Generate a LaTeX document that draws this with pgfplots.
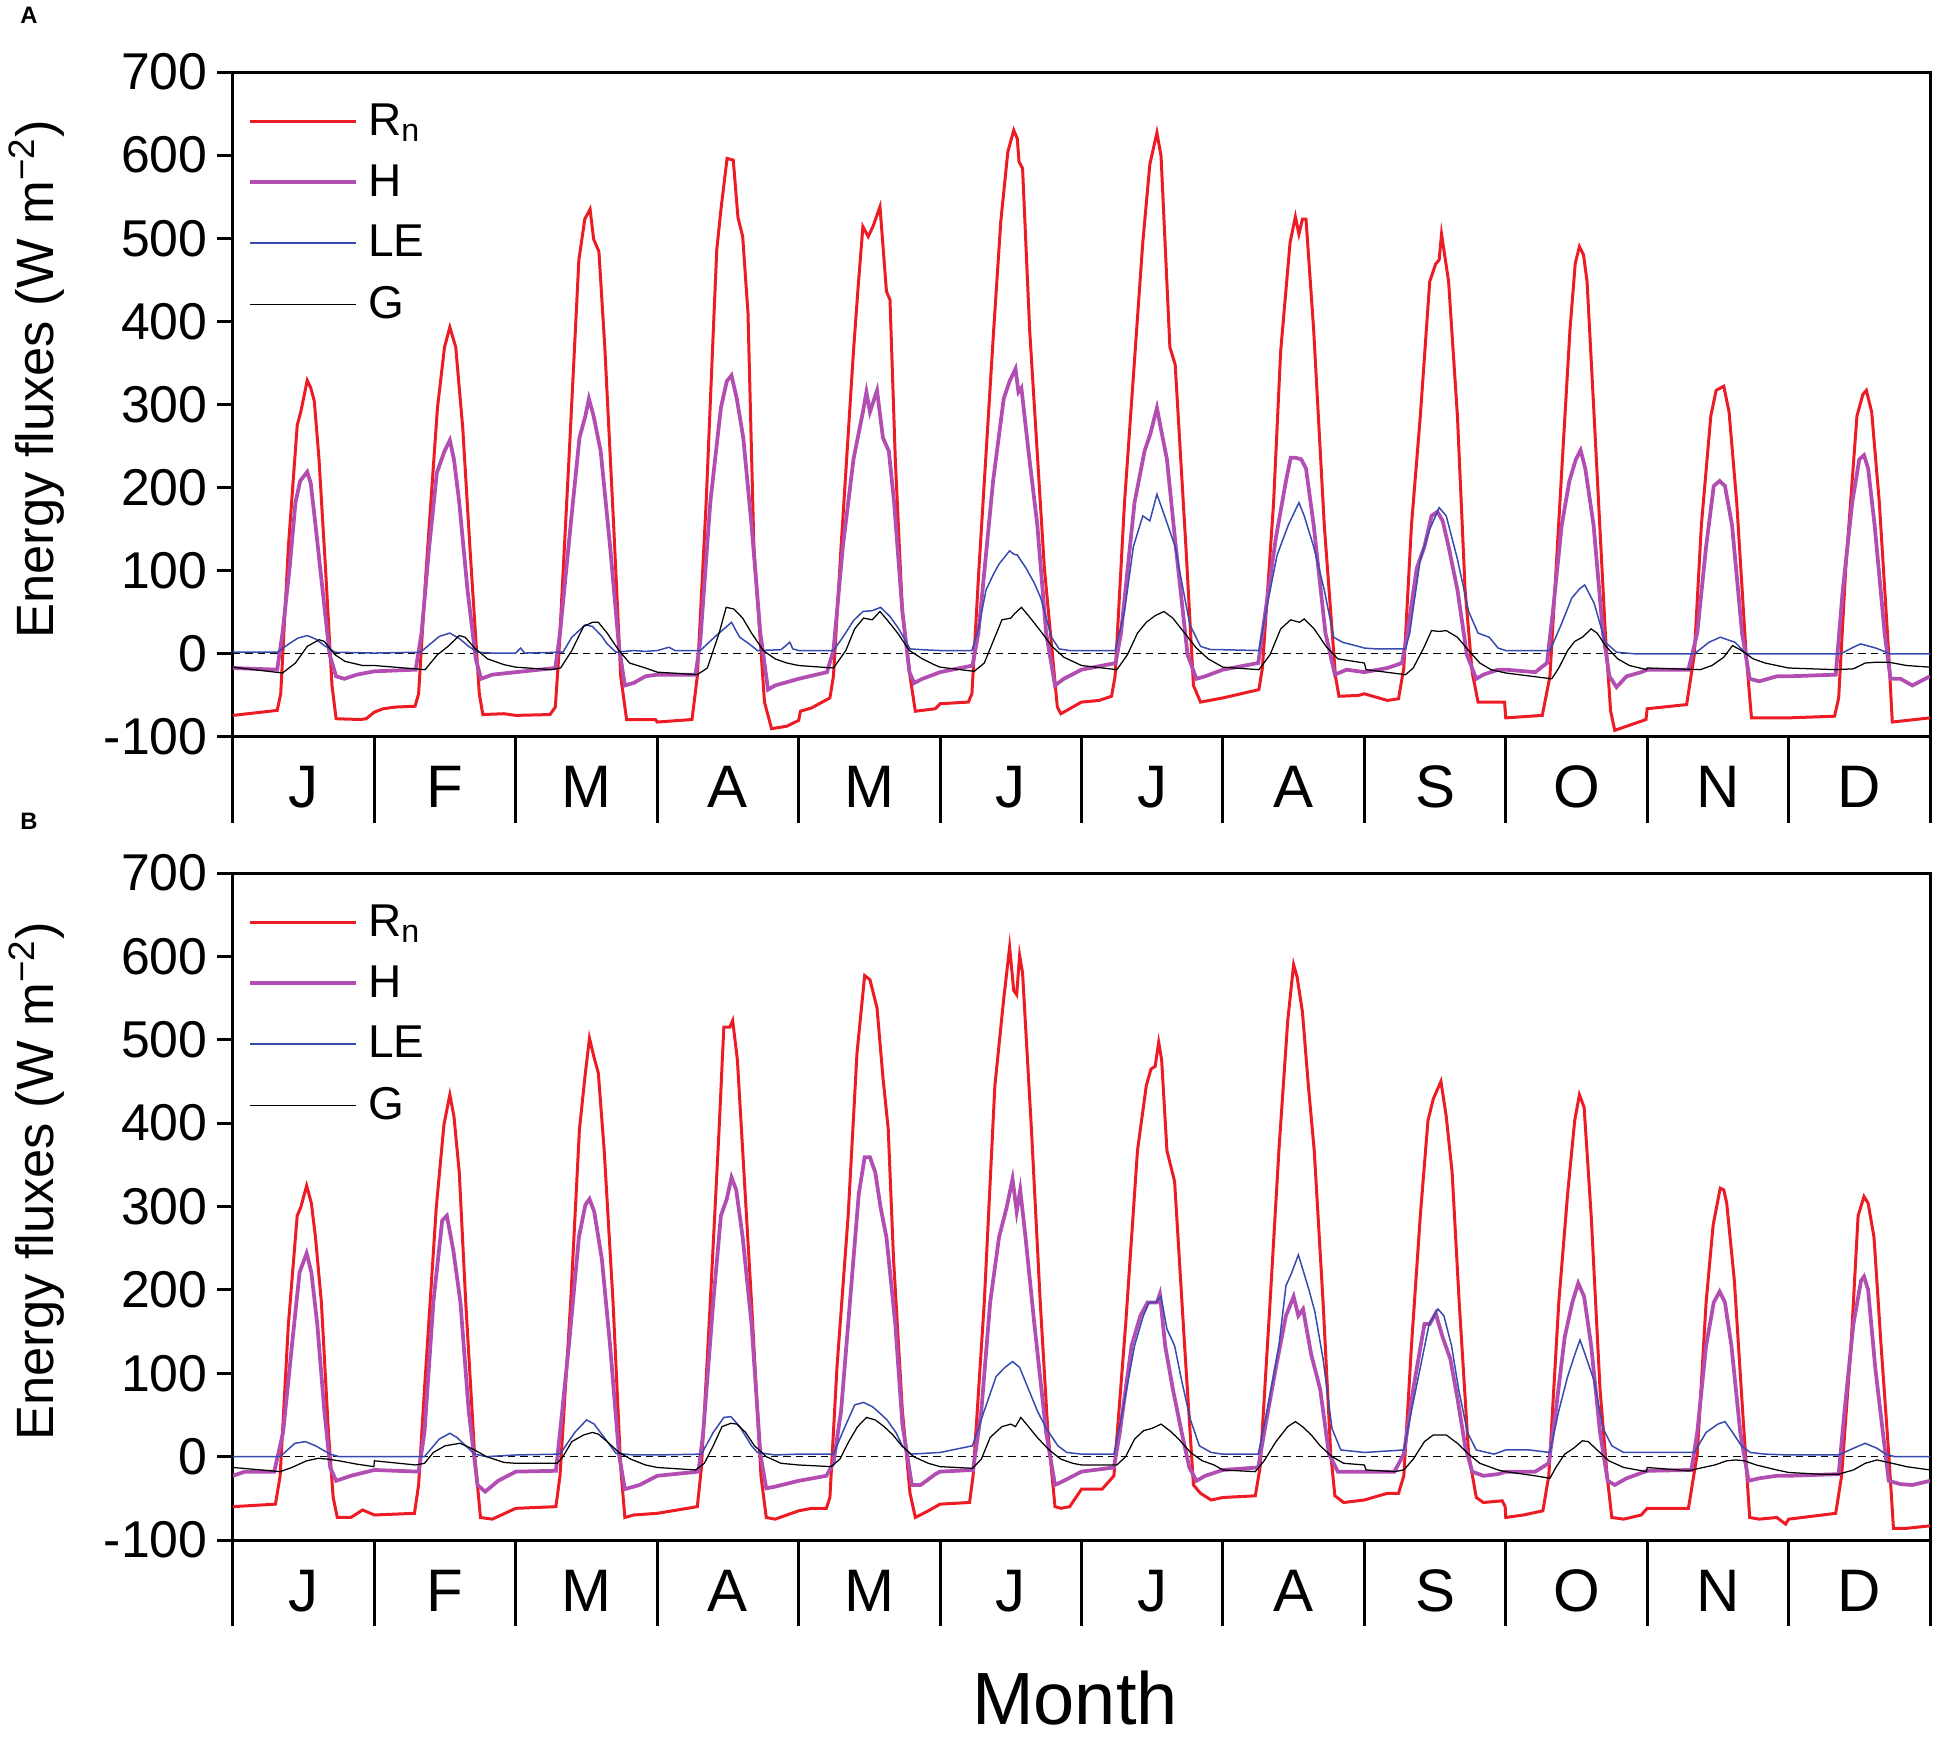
\documentclass[border=0pt]{standalone}
\usepackage{fontspec}
\setmainfont{Liberation Sans}
\usepackage{pgfplots}
\usepackage{pgfplotstable}
\pgfplotsset{compat=1.18}
\definecolor{rncol}{RGB}{237,28,36}
\definecolor{hcol}{RGB}{178,77,178}
\definecolor{lecol}{RGB}{55,75,175}
\newcommand{\fT}{\fontsize{20.7}{24}\selectfont}
\newcommand{\fM}{\fontsize{24}{28}\selectfont}
\newcommand{\fL}{\fontsize{18.4}{22}\selectfont}
\newcommand{\fY}{\fontsize{21}{25}\selectfont}
% ---------------- Panel A ----------------
\pgfplotstableread[row sep=\\]{
m h v\\
0 0 -74\\0 7.5 -68\\0 8.1 -48\\0 9.4 129\\0 10.9 275\\0 11.5 291\\0 12.6 329\\0 13.2 320\\0 13.8 304\\0 14.6 234\\0 15.7 103\\0 16.8 -38\\0 17.5 -78\\0 21.7 -79\\0 22.6 -78\\
1 0 -70\\1 1.5 -66\\1 3.5 -64\\1 6.9 -63\\1 7.5 -48\\1 8.8 103\\1 10.7 296\\1 11.9 369\\1 12.8 393\\1 13.8 369\\1 15.0 271\\1 16.2 129\\1 17.8 -48\\1 18.4 -73\\1 22 -72\\
2 0 -74\\2 5.8 -73\\2 6.7 -64\\2 7.3 -1\\2 9.2 260\\2 10.7 474\\2 11.7 523\\2 12.6 535\\2 13.2 499\\2 14.1 484\\2 15.1 369\\2 16.6 155\\2 17.8 -27\\2 18.8 -79\\2 23.7 -79\\
3 0 -82\\3 5.9 -79\\3 6.8 -27\\3 8.3 182\\3 9.5 386\\3 10.1 486\\3 10.8 534\\3 11.85 596\\3 12.9 594\\3 13.7 525\\3 14.5 502\\3 15.4 410\\3 16.4 129\\3 18.2 -58\\3 19.4 -90\\3 22 -87\\
4 0 -80\\4 0.3 -69\\4 2.2 -65\\4 5.3 -53\\4 5.9 -27\\4 7.2 129\\4 9.3 364\\4 10.1 442\\4 10.9 514\\4 11.8 502\\4 12.6 514\\4 13.8 538\\4 14.9 436\\4 15.5 426\\4 16.4 234\\4 17.6 51\\4 18.9 -27\\4 19.8 -69\\4 23.2 -66\\
5 0 -60\\5 4.8 -58\\5 5.4 -48\\5 6.6 103\\5 9.1 390\\5 10.3 520\\5 11.5 604\\5 12.5 630\\5 13.1 620\\5 13.4 592\\5 14.0 584\\5 15.2 390\\5 17.7 103\\5 19.9 -64\\5 20.5 -72\\5 22 -66\\
6 0 -58\\6 3 -56\\6 5.1 -51\\6 5.7 -27\\6 7.3 182\\6 10.4 495\\6 11.6 589\\6 12.8 627\\6 13.5 599\\6 15.0 369\\6 15.9 348\\6 17.8 119\\6 19.0 -38\\6 20.2 -58\\
7 0 -53\\7 6.1 -43\\7 6.7 -17\\7 8.6 182\\7 9.8 364\\7 11.4 495\\7 12.3 526\\7 12.9 505\\7 13.5 523\\7 14.1 523\\7 15.4 390\\7 17.2 155\\7 19.1 -27\\7 19.7 -51\\7 23 -50\\
8 0 -48\\8 3.9 -56\\8 5.8 -54\\8 6.7 -17\\8 8.0 155\\8 9.5 286\\8 11.1 448\\8 12.1 469\\8 12.7 474\\8 13.1 505\\8 14.3 448\\8 15.8 286\\8 17.1 77\\8 18.3 -22\\8 19.3 -58\\8 23.8 -58\\
9 0 -77\\9 6.2 -74\\9 7.5 -27\\9 9.4 208\\9 10.9 390\\9 11.8 470\\9 12.5 490\\9 13.2 480\\9 13.8 448\\9 15.0 286\\9 16.9 25\\9 17.8 -69\\9 18.5 -92\\9 23.8 -79\\
10 0 -66\\10 6.7 -61\\10 8.0 -1\\10 9.2 155\\10 10.8 286\\10 11.7 317\\10 13.0 322\\10 13.9 291\\10 15.2 182\\10 16.8 -1\\10 17.7 -77\\10 23.7 -77\\
11 0 -77\\11 7.8 -75\\11 8.5 -53\\11 9.7 103\\11 11.6 286\\11 12.6 312\\11 13.2 317\\11 14.1 291\\11 15.4 182\\11 17.0 -1\\11 17.6 -82\\11 24 -77\\
}\RnA
\pgfplotstableread[row sep=\\]{
m h v\\
0 0 -17\\0 7.5 -19\\0 8.4 25\\0 9.6 103\\0 10.6 182\\0 11.4 208\\0 12.6 219\\0 13.2 205\\0 14.0 155\\0 15.2 77\\0 16.4 -1\\0 17.5 -27\\0 18.9 -30\\0 21 -25\\
1 0 -21\\1 7.0 -19\\1 8.0 25\\1 9.3 129\\1 10.6 218\\1 11.9 244\\1 12.8 257\\1 13.5 234\\1 14.4 182\\1 15.8 77\\1 17.2 -6\\1 18.1 -30\\1 20 -25\\
2 0 -22\\2 6.7 -17\\2 7.5 25\\2 9.3 155\\2 10.8 260\\2 11.8 286\\2 12.4 307\\2 13.2 286\\2 14.4 244\\2 16.0 129\\2 17.5 9\\2 18.5 -38\\2 20 -35\\2 22 -27\\
3 0 -25\\3 6.5 -25\\3 7.3 15\\3 9.0 182\\3 10.8 296\\3 11.8 328\\3 12.6 335\\3 13.5 307\\3 14.6 260\\3 16.0 155\\3 17.5 25\\3 18.8 -43\\3 20 -38\\
4 0 -30\\4 4.8 -22\\4 5.9 4\\4 7.5 129\\4 9.3 234\\4 10.9 291\\4 11.5 315\\4 12.1 291\\4 13.3 317\\4 14.3 260\\4 15.3 244\\4 16.2 182\\4 17.6 51\\4 18.8 -22\\4 19.6 -35\\4 21 -30\\
5 0 -22\\5 5.5 -14\\5 6.5 25\\5 9.0 208\\5 10.8 307\\5 11.8 328\\5 12.8 343\\5 13.3 315\\5 13.8 320\\5 15.0 244\\5 16.5 155\\5 18.0 25\\5 19.5 -38\\5 21 -30\\
6 0 -19\\6 5.8 -11\\6 6.7 25\\6 9.0 182\\6 10.7 244\\6 11.7 265\\6 12.8 296\\6 13.5 270\\6 14.5 234\\6 16.0 129\\6 18.0 -1\\6 19.5 -30\\6 21 -27\\
7 0 -19\\7 6.0 -11\\7 6.7 25\\7 9.0 140\\7 10.7 208\\7 11.5 236\\7 12.3 236\\7 13.3 234\\7 14.1 223\\7 15.4 155\\7 17.4 25\\7 19.0 -25\\7 21 -19\\
8 0 -22\\8 3.9 -17\\8 6.4 -11\\8 7.3 25\\8 8.9 103\\8 10.2 129\\8 11.4 166\\8 12.4 171\\8 13.3 160\\8 14.3 129\\8 15.8 77\\8 17.4 -1\\8 19.0 -30\\8 20.2 -25\\8 22.7 -19\\
9 0 -19\\9 5.0 -22\\9 7.0 -11\\9 8.0 51\\9 9.5 155\\9 10.8 208\\9 11.9 234\\9 12.7 245\\9 13.5 223\\9 14.9 155\\9 16.5 25\\9 17.6 -27\\9 18.8 -40\\9 20.5 -27\\9 23 -22\\
10 0 -19\\10 7.0 -19\\10 8.5 25\\10 10.0 129\\10 11.3 202\\10 12.3 208\\10 13.2 202\\10 14.4 155\\10 16.1 25\\10 17.4 -30\\10 19.0 -33\\10 22 -27\\
11 0 -27\\11 8.0 -25\\11 9.2 77\\11 10.8 182\\11 12.0 234\\11 12.8 239\\11 13.5 223\\11 14.6 155\\11 16.3 25\\11 17.3 -30\\11 19.0 -30\\11 21 -38\\11 24 -27\\
}\HA
\pgfplotstableread[row sep=\\]{
m h v\\
0 0 2\\0 7.5 2\\0 9.5 12\\0 11 19\\0 12.6 22\\0 14 18\\0 15.5 10\\0 17.3 2\\
1 0 1\\1 7.8 2\\1 9.5 12\\1 11 21\\1 12.8 25\\1 14.5 18\\1 16 9\\1 17.5 2\\1 20 1\\
2 0 1\\2 0.8 7\\2 1.5 1\\2 8.0 2\\2 9.5 20\\2 11.8 35\\2 13 33\\2 14.5 22\\2 15.5 12\\2 17 2\\2 20 4\\2 22 3\\
3 0 4\\3 2 8\\3 3 4\\3 7.3 4\\3 8.5 12\\3 10 22\\3 11 28\\3 12.6 38\\3 13.2 30\\3 14 20\\3 15.6 12\\3 17 4\\3 21 5\\3 22.5 14\\3 23 6\\
4 0 4\\4 5.9 4\\4 7.5 20\\4 9.3 40\\4 10.9 51\\4 12.5 52\\4 13.9 56\\4 15.5 45\\4 17 30\\4 18.9 6\\4 21 5\\
5 0 4\\5 5.4 4\\5 6.5 30\\5 7.8 77\\5 9 95\\5 10 108\\5 11.8 124\\5 12.5 120\\5 13.1 119\\5 14.6 103\\5 16 85\\5 17.1 67\\5 18.9 20\\5 20.2 6\\5 22 4\\
6 0 4\\6 5.7 4\\6 7.3 51\\6 8.8 129\\6 10.4 166\\6 11.6 160\\6 12.8 192\\6 14.1 166\\6 15.9 129\\6 17.1 83\\6 18.4 35\\6 20.2 9\\6 22 5\\
7 0 5\\7 6.1 4\\7 7.3 51\\7 9.2 119\\7 11.1 155\\7 12.9 182\\7 13.8 166\\7 15.4 129\\7 17.2 77\\7 18.8 20\\7 20.3 14\\7 23 9\\
8 0 7\\8 2 6\\8 7.0 6\\8 7.7 25\\8 9.5 114\\8 11.1 150\\8 12.7 176\\8 13.9 166\\8 15.8 114\\8 17.7 51\\8 19.3 25\\8 21.2 20\\8 22.7 7\\
9 0 4\\9 7.5 4\\9 9.4 35\\9 11.2 67\\9 12.5 78\\9 13.4 83\\9 15 61\\9 16.9 14\\9 18.8 2\\9 22 0\\
10 0 0\\10 8 0\\10 10.5 14\\10 12.4 20\\10 14.9 14\\10 16.8 0\\
11 0 0\\11 8.8 0\\11 11 8\\11 12.2 12\\11 14.8 7\\11 17.3 0\\11 24 0\\
}\LEA
\pgfplotstableread[row sep=\\]{
m h v\\
0 0 -16\\0 8.4 -23\\0 10.6 -11\\0 12.6 9\\0 14.6 17\\0 15.5 15\\0 17.3 -1\\0 19.0 -9\\0 22 -14\\
1 0 -14\\1 8.6 -19\\1 10.7 -1\\1 12.5 9\\1 14.4 22\\1 15.4 20\\1 17.0 7\\1 19.2 -6\\1 22 -13\\
2 0 -16\\2 6.0 -19\\2 7.6 -17\\2 9.5 4\\2 11.5 33\\2 13.0 38\\2 14.0 38\\2 15.5 25\\2 17.5 4\\2 19.3 -11\\2 22 -17\\
3 0 -22\\3 6.8 -25\\3 8.5 -17\\3 10.5 25\\3 11.7 56\\3 13.0 54\\3 14.5 43\\3 16.0 25\\3 18.0 4\\3 20 -6\\3 22 -11\\
4 0 -14\\4 5.9 -17\\4 8.0 4\\4 9.5 30\\4 11.0 43\\4 12.5 41\\4 13.8 51\\4 15.0 41\\4 16.8 25\\4 18.8 4\\4 21 -6\\4 23 -13\\
5 0 -16\\5 5.8 -21\\5 7.5 -11\\5 9.0 15\\5 10.5 41\\5 12.0 43\\5 12.6 48\\5 13.8 56\\5 15.0 46\\5 17.0 28\\5 19.0 9\\5 21 -4\\
6 0 -14\\6 6.0 -19\\6 7.8 -1\\6 9.5 25\\6 11.0 38\\6 12.5 46\\6 14.0 51\\6 15.5 43\\6 17.5 25\\6 19.5 7\\6 21.5 -6\\
7 0 -16\\7 6.1 -19\\7 8.0 -1\\7 9.8 30\\7 11.5 41\\7 13.0 38\\7 13.8 42\\7 15.5 30\\7 17.5 9\\7 19.5 -6\\
8 0 -11\\8 0.3 -19\\8 7 -25\\8 8.3 -17\\8 10.2 9\\8 11.4 28\\8 12.7 27\\8 13.9 28\\8 15.8 20\\8 17.7 4\\8 19.6 -11\\8 21.5 -19\\
9 0 -23\\9 7.8 -30\\9 9.0 -17\\9 10.5 4\\9 11.7 15\\9 13.0 20\\9 14.5 30\\9 15.5 25\\9 17.0 9\\9 19.0 -6\\9 21 -14\\9 23.9 -19\\
10 0 -17\\10 9 -19\\10 11 -14\\10 13 -4\\10 14.5 10\\10 16 4\\10 18 -6\\10 20 -11\\
11 0 -17\\11 8 -19\\11 11 -18\\11 13 -11\\11 15 -10\\11 17 -10\\11 20 -14\\11 24 -16\\
}\GA
% ---------------- Panel B ----------------
\pgfplotstableread[row sep=\\]{
m h v\\
0 0 -60\\0 7.2 -57\\0 8.0 -23\\0 9.4 159\\0 10.9 289\\0 11.5 299\\0 12.5 325\\0 13.3 304\\0 14.0 263\\0 15.0 185\\0 16.2 29\\0 17.0 -49\\0 17.7 -73\\0 20 -73\\0 22 -64\\
1 0 -70\\1 6.8 -68\\1 7.5 -34\\1 8.5 81\\1 10.5 299\\1 11.8 398\\1 12.8 434\\1 13.5 408\\1 14.4 341\\1 15.5 185\\1 17.0 3\\1 18.0 -73\\1 20 -75\\
2 0 -62\\2 6.8 -60\\2 7.5 -23\\2 9.3 185\\2 10.8 393\\2 11.8 460\\2 12.5 502\\2 13.2 481\\2 14.0 460\\2 15.0 367\\2 16.5 185\\2 17.8 -13\\2 18.5 -73\\2 20 -70\\
3 0 -68\\3 6.8 -60\\3 7.5 -13\\3 9.0 185\\3 10.5 393\\3 11.3 515\\3 12.3 515\\3 12.8 523\\3 13.6 476\\3 14.5 367\\3 16.0 185\\3 17.6 -23\\3 18.5 -73\\3 20 -75\\
4 0 -65\\4 2.2 -62\\4 4.7 -62\\4 5.3 -49\\4 6.5 107\\4 8.4 289\\4 9.9 484\\4 11.2 577\\4 12.1 572\\4 13.3 538\\4 14.3 455\\4 15.2 393\\4 16.1 237\\4 17.6 55\\4 18.9 -44\\4 19.8 -73\\4 22 -65\\
5 0 -57\\5 5.0 -55\\5 5.6 -23\\5 7.5 185\\5 9.3 445\\5 10.8 549\\5 11.8 611\\5 12.5 559\\5 13.0 554\\5 13.5 601\\5 14.0 580\\5 15.5 393\\5 17.0 185\\5 18.3 29\\5 19.5 -60\\5 20.5 -62\\5 22 -60\\
6 0 -39\\6 3.5 -39\\6 5.5 -23\\6 7.5 159\\6 9.5 367\\6 11.0 445\\6 11.8 465\\6 12.5 468\\6 13.1 497\\6 13.6 476\\6 14.5 367\\6 15.8 330\\6 17.5 133\\6 19.0 -34\\6 20.2 -44\\6 22 -52\\
7 0 -49\\7 5.5 -47\\7 6.3 -13\\7 8.0 185\\7 9.5 367\\7 11.0 523\\7 12.0 590\\7 12.6 575\\7 13.5 533\\7 14.5 445\\7 15.5 367\\7 17.0 185\\7 18.3 3\\7 19.0 -47\\7 20.5 -55\\
8 0 -52\\8 3.9 -44\\8 5.8 -44\\8 6.7 -23\\8 8.0 133\\8 9.5 289\\8 10.8 403\\8 11.7 429\\8 13.0 450\\8 13.9 408\\8 14.9 341\\8 16.1 185\\8 17.7 3\\8 19.0 -49\\8 20.2 -55\\8 23.4 -53\\8 23.9 -60\\
9 0 -73\\9 3 -70\\9 6.3 -65\\9 7.3 -23\\9 9.0 185\\9 10.5 315\\9 11.7 403\\9 12.5 434\\9 13.3 419\\9 14.5 289\\9 16.0 81\\9 17.2 -23\\9 18.0 -73\\9 20 -75\\9 23 -70\\
10 0 -62\\10 7.0 -62\\10 8.5 3\\10 10.0 185\\10 11.2 278\\10 12.4 322\\10 13.0 320\\10 13.5 304\\10 14.8 211\\10 16.2 55\\10 17.4 -73\\10 19.0 -75\\10 22 -73\\10 23.5 -81\\
11 0 -75\\11 8.0 -68\\11 9.0 -23\\11 10.6 133\\11 11.8 289\\11 12.8 312\\11 13.5 304\\11 14.5 263\\11 15.7 133\\11 17.0 3\\11 17.8 -86\\11 20 -86\\11 24 -83\\
}\RnB
\pgfplotstableread[row sep=\\]{
m h v\\
0 0 -23\\0 2 -18\\0 7.0 -18\\0 8.5 29\\0 10.0 133\\0 11.3 221\\0 12.5 244\\0 13.3 221\\0 14.3 159\\0 15.5 55\\0 16.5 -13\\0 17.5 -29\\0 20 -23\\
1 0 -16\\1 7.5 -18\\1 8.5 29\\1 10.0 185\\1 11.5 283\\1 12.3 289\\1 13.4 247\\1 14.6 185\\1 16.0 55\\1 17.5 -34\\1 18.8 -42\\1 21 -29\\
2 0 -18\\2 6.8 -17\\2 7.5 29\\2 9.0 133\\2 10.7 263\\2 11.8 302\\2 12.5 309\\2 13.3 294\\2 14.6 237\\2 16.0 133\\2 17.5 3\\2 18.5 -39\\2 21 -34\\
3 0 -23\\3 7.0 -18\\3 7.8 29\\3 9.5 185\\3 10.8 289\\3 11.8 309\\3 12.6 335\\3 13.4 320\\3 14.5 263\\3 16.0 159\\3 17.5 3\\3 18.5 -38\\3 20 -36\\
4 0 -29\\4 4.7 -23\\4 5.9 -8\\4 7.2 55\\4 8.7 185\\4 10.2 315\\4 11.2 359\\4 12.1 359\\4 13.0 341\\4 13.9 299\\4 14.9 263\\4 16.4 159\\4 17.6 39\\4 19.2 -34\\4 20.7 -34\\4 23.2 -21\\
5 0 -18\\5 5.6 -16\\5 7.0 55\\5 8.5 185\\5 10.0 263\\5 11.3 299\\5 12.3 333\\5 13.0 294\\5 13.6 320\\5 14.5 263\\5 16.0 159\\5 18.0 29\\5 19.5 -34\\5 21 -29\\
6 0 -18\\6 5.5 -13\\6 6.5 29\\6 8.5 133\\6 10.0 169\\6 11.2 185\\6 12.8 185\\6 13.3 195\\6 14.2 133\\6 15.5 81\\6 17.0 29\\6 18.3 -13\\6 19.5 -29\\6 21 -23\\
7 0 -16\\7 6.0 -13\\7 7.0 29\\7 9.0 107\\7 10.7 169\\7 12.0 192\\7 12.8 169\\7 13.6 177\\7 15.0 122\\7 16.5 81\\7 18.0 3\\7 19.5 -18\\
8 0 -18\\8 5.1 -18\\8 6.7 3\\8 8.3 81\\8 10.2 159\\8 11.1 159\\8 12.1 172\\8 13.3 143\\8 14.6 117\\8 15.8 70\\8 17.1 13\\8 18.3 -18\\8 20.2 -23\\8 22.7 -21\\
9 0 -18\\9 5.0 -18\\9 7.3 -8\\9 8.5 55\\9 10.0 143\\9 11.3 185\\9 12.3 208\\9 13.3 192\\9 14.5 133\\9 16.0 29\\9 17.3 -29\\9 18.5 -34\\9 20.5 -26\\
10 0 -17\\10 7.5 -16\\10 8.5 29\\10 10.0 133\\10 11.3 185\\10 12.3 198\\10 13.2 185\\10 14.3 133\\10 15.8 29\\10 17.2 -29\\10 19.0 -26\\10 22 -23\\
11 0 -23\\11 8.5 -21\\11 9.5 55\\11 11.0 159\\11 12.3 211\\11 12.8 216\\11 13.5 200\\11 14.7 107\\11 16.0 29\\11 17.0 -29\\11 19.0 -33\\11 21 -34\\11 24 -29\\
}\HB
\pgfplotstableread[row sep=\\]{
m h v\\
0 0 0\\0 8.0 0\\0 10.5 16\\0 12.3 18\\0 14 13\\0 16.5 3\\0 18 0\\
1 0 0\\1 8.5 0\\1 11 21\\1 12.8 28\\1 14 23\\1 15.5 13\\1 17 3\\1 19 0\\
2 0 2\\2 7.5 3\\2 10 29\\2 12 44\\2 13.3 39\\2 15 23\\2 17 4\\2 20 2\\
3 0 2\\3 7.5 3\\3 9.5 29\\3 11.3 47\\3 12.5 48\\3 14 36\\3 16 13\\3 17 5\\3 20 2\\
4 0 3\\4 5.9 3\\4 7.5 30\\4 9.5 62\\4 11 65\\4 12.5 60\\4 13.8 52\\4 15 44\\4 16.5 29\\4 17.6 13\\4 19 3\\
5 0 5\\5 5.5 13\\5 7.5 55\\5 9.5 96\\5 11 107\\5 12.3 114\\5 13.5 107\\5 15 81\\5 16.5 55\\5 18 34\\5 20 13\\5 21.5 5\\
6 0 3\\6 5.5 3\\6 7 55\\6 9 133\\6 10.5 169\\6 11.5 185\\6 12.6 185\\6 13.5 192\\6 14.5 153\\6 15.8 133\\6 17 91\\6 18.5 44\\6 20 13\\6 22 5\\
7 0 3\\7 6 3\\7 7.5 55\\7 9.5 133\\7 10.7 205\\7 11.7 221\\7 12.8 242\\7 13.5 226\\7 14.6 200\\7 15.6 174\\7 17 117\\7 18.5 34\\7 20 8\\
8 0 5\\8 6.7 8\\8 8 55\\8 9.5 107\\8 11 159\\8 12.5 177\\8 13.5 169\\8 14.8 133\\8 16 81\\8 17.5 29\\8 19 8\\8 22 3\\
9 0 8\\9 4 8\\9 7.5 5\\9 9 55\\9 10.5 96\\9 11.7 122\\9 12.6 140\\9 13.5 122\\9 15 91\\9 16.5 34\\9 18 13\\9 20 5\\
10 0 5\\10 8 5\\10 10 29\\10 12 39\\10 13.2 42\\10 14.5 29\\10 16 13\\10 17.5 5\\10 20 3\\
11 0 2\\11 8.5 2\\11 11 10\\11 13 16\\11 15 10\\11 16.5 3\\11 18 0\\11 24 0\\
}\LEB
\pgfplotstableread[row sep=\\]{
m h v\\
0 0 -13\\0 8.0 -18\\0 10.0 -13\\0 12.5 -5\\0 14.5 -2\\0 16.0 -3\\0 18.0 -5\\0 21 -9\\0 23.9 -12\\
1 0 -5\\1 7.0 -10\\1 8.5 -8\\1 10.0 5\\1 12.0 13\\1 14.5 16\\1 15.5 13\\1 17.0 8\\1 19.0 0\\1 22 -7\\
2 0 -8\\2 7.0 -8\\2 8.0 0\\2 9.5 18\\2 11.5 26\\2 13.0 29\\2 14.0 27\\2 15.5 18\\2 17.5 5\\2 19.5 -3\\2 22 -10\\
3 0 -13\\3 6.5 -16\\3 8.0 -8\\3 9.5 13\\3 11.0 36\\3 12.5 40\\3 13.5 39\\3 15.0 29\\3 16.5 13\\3 18.5 0\\3 21 -8\\
4 0 -10\\4 5.5 -12\\4 7.0 -3\\4 8.5 18\\4 10.0 36\\4 11.5 47\\4 13.0 44\\4 14.5 36\\4 16.0 26\\4 17.5 13\\4 19.5 0\\4 22 -8\\
5 0 -12\\5 5.5 -14\\5 7.0 -3\\5 8.5 23\\5 10.5 36\\5 12.0 39\\5 12.8 36\\5 13.7 47\\5 15.0 36\\5 16.5 23\\5 18.5 8\\5 20.5 -3\\5 22.5 -8\\
6 0 -10\\6 6.0 -10\\6 7.5 0\\6 9.0 21\\6 10.5 31\\6 12.0 34\\6 13.5 39\\6 15.0 31\\6 16.5 21\\6 18.5 5\\6 20.5 -5\\6 22.5 -10\\
7 0 -16\\7 5.5 -18\\7 7.0 -5\\7 9.0 18\\7 11.0 36\\7 12.3 42\\7 13.5 36\\7 15.0 26\\7 16.5 13\\7 18.5 0\\7 20.5 -8\\
8 0 -10\\8 0.3 -16\\8 5.1 -18\\8 6.7 -16\\8 8.3 -3\\8 10.2 18\\8 11.7 26\\8 13.9 26\\8 15.8 16\\8 17.7 3\\8 19.6 -8\\8 22.7 -16\\
9 0 -18\\9 5.0 -23\\9 7.5 -26\\9 8.5 -13\\9 10.0 3\\9 11.5 10\\9 13.0 19\\9 14.0 18\\9 15.5 8\\9 17.5 -5\\9 20 -13\\9 23.9 -18\\
10 0 -13\\10 7.0 -17\\10 9.5 -13\\10 11.5 -10\\10 13.5 -5\\10 15.0 -4\\10 16.5 -5\\10 18.5 -10\\10 22 -16\\
11 0 -19\\11 5.0 -21\\11 8.5 -21\\11 11.0 -16\\11 13.0 -8\\11 15.0 -4\\11 17.0 -7\\11 20 -12\\11 24 -16\\
}\GB
\tikzset{mlab/.style={anchor=base, yshift=-28.4pt, font=\fM, inner sep=0pt},
  mdiv/.style={black, line width=1.2pt}}
\newcommand{\months}{%
\node[mlab] at (axis cs:0.5,-100) {J};
\node[mlab] at (axis cs:1.5,-100) {F};
\node[mlab] at (axis cs:2.5,-100) {M};
\node[mlab] at (axis cs:3.5,-100) {A};
\node[mlab] at (axis cs:4.5,-100) {M};
\node[mlab] at (axis cs:5.5,-100) {J};
\node[mlab] at (axis cs:6.5,-100) {J};
\node[mlab] at (axis cs:7.5,-100) {A};
\node[mlab] at (axis cs:8.5,-100) {S};
\node[mlab] at (axis cs:9.5,-100) {O};
\node[mlab] at (axis cs:10.5,-100) {N};
\node[mlab] at (axis cs:11.5,-100) {D};
\draw[mdiv] (axis cs:0,-100) -- ++(0pt,-34.4pt);
\draw[mdiv] (axis cs:1,-100) -- ++(0pt,-34.4pt);
\draw[mdiv] (axis cs:2,-100) -- ++(0pt,-34.4pt);
\draw[mdiv] (axis cs:3,-100) -- ++(0pt,-34.4pt);
\draw[mdiv] (axis cs:4,-100) -- ++(0pt,-34.4pt);
\draw[mdiv] (axis cs:5,-100) -- ++(0pt,-34.4pt);
\draw[mdiv] (axis cs:6,-100) -- ++(0pt,-34.4pt);
\draw[mdiv] (axis cs:7,-100) -- ++(0pt,-34.4pt);
\draw[mdiv] (axis cs:8,-100) -- ++(0pt,-34.4pt);
\draw[mdiv] (axis cs:9,-100) -- ++(0pt,-34.4pt);
\draw[mdiv] (axis cs:10,-100) -- ++(0pt,-34.4pt);
\draw[mdiv] (axis cs:11,-100) -- ++(0pt,-34.4pt);
\draw[mdiv] (axis cs:12,-100) -- ++(0pt,-34.4pt);
}
\pgfplotsset{
  panel/.style={
    scale only axis, width=678.8pt,
    xmin=0, xmax=12, ymin=-100, ymax=700,
    axis line style={line width=1.2pt},
    tick style={black, line width=1.2pt},
    tick align=outside,
    xtick=\empty,
    ytick={-100,0,100,200,300,400,500,600,700},
    yticklabels={-100,0,100,200,300,400,500,600,700},
    major tick length=6.4pt,
    ytick pos=left,
    yticklabel style={font=\fT, anchor=east, inner sep=0pt, xshift=-3.6pt},
    clip mode=individual,
    legend style={at={(axis description cs:0.0088,1)}, anchor=north west, yshift=-12.4pt,
      draw=none, fill=none, inner sep=0pt, font=\fL, row sep=10.2pt, column sep=4pt,
      nodes={inner sep=0pt}},
    legend cell align=left,
    legend image code/.code={\draw[##1] (0pt,0pt) -- (42.4pt,0pt);},
    ylabel={Energy fluxes (W m\textsuperscript{−2})},
    every axis y label/.style={at={(axis description cs:-0.106,0.5376)}, rotate=90, anchor=base, font=\fY},
  }
}
\begin{document}
\begin{tikzpicture}
\path[use as bounding box] (0,0) rectangle (774.4pt,-694.8pt);
\begin{axis}[panel, height=266pt, at={(93.2pt,-294.8pt)}, anchor=south west]
\addplot[black, line width=0.4pt, dash pattern=on 3pt off 2pt, forget plot] coordinates {(0,0) (12,0)};
\addplot[rncol, line width=1.2pt] table[x expr=\thisrow{m}+\thisrow{h}/24, y=v] {\RnA}; \addlegendentry{R\textsubscript{n}}
\addplot[hcol, line width=1.5pt] table[x expr=\thisrow{m}+\thisrow{h}/24, y=v] {\HA}; \addlegendentry{H}
\addplot[lecol, line width=0.6pt] table[x expr=\thisrow{m}+\thisrow{h}/24, y=v] {\LEA}; \addlegendentry{LE}
\addplot[black, line width=0.5pt] table[x expr=\thisrow{m}+\thisrow{h}/24, y=v] {\GA}; \addlegendentry{G}
\months
\end{axis}
\begin{axis}[panel, height=266.8pt, at={(93.2pt,-616pt)}, anchor=south west]
\addplot[black, line width=0.4pt, dash pattern=on 3pt off 2pt, forget plot] coordinates {(0,0) (12,0)};
\addplot[rncol, line width=1.2pt] table[x expr=\thisrow{m}+\thisrow{h}/24, y=v] {\RnB}; \addlegendentry{R\textsubscript{n}}
\addplot[hcol, line width=1.5pt] table[x expr=\thisrow{m}+\thisrow{h}/24, y=v] {\HB}; \addlegendentry{H}
\addplot[lecol, line width=0.6pt] table[x expr=\thisrow{m}+\thisrow{h}/24, y=v] {\LEB}; \addlegendentry{LE}
\addplot[black, line width=0.5pt] table[x expr=\thisrow{m}+\thisrow{h}/24, y=v] {\GB}; \addlegendentry{G}
\months
\end{axis}
\node[anchor=base west, font=\bfseries\fontsize{9.5}{11}\selectfont, inner sep=0pt] at (8pt,-9.6pt) {A};
\node[anchor=base west, font=\bfseries\fontsize{9.5}{11}\selectfont, inner sep=0pt] at (8pt,-332pt) {B};
\node[anchor=base, font=\fontsize{29.6}{34}\selectfont, inner sep=0pt] at (430pt,-689.6pt) {Month};
\end{tikzpicture}
\end{document}
